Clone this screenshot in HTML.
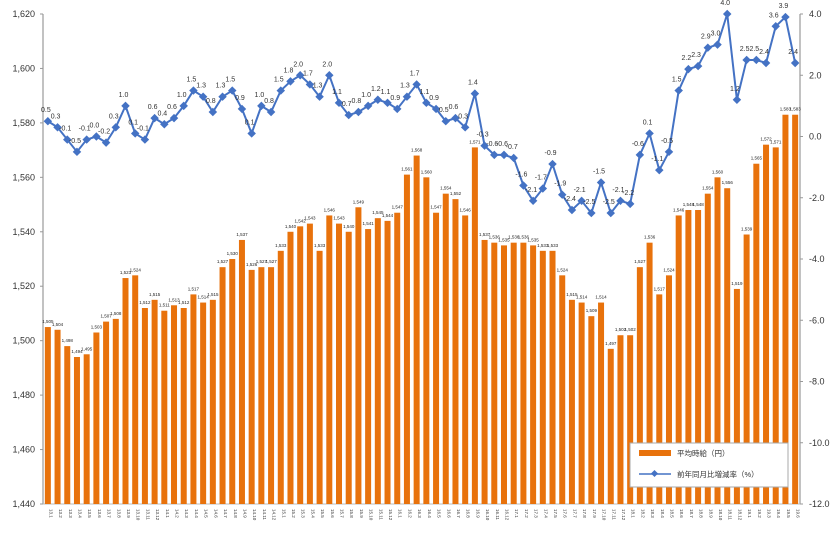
<!DOCTYPE html>
<html><head><meta charset="utf-8">
<style>
body{margin:0;background:#fff;}
svg{display:block;font-family:"Liberation Sans","Noto Sans CJK JP",sans-serif;}
</style></head><body>
<svg id="c" width="840" height="547" viewBox="0 0 840 547" xmlns="http://www.w3.org/2000/svg"></svg>
<script>
const bars=[1505,1504,1498,1494,1495,1503,1507,1508,1523,1524,1512,1515,1511,1513,1512,1517,1514,1515,1527,1530,1537,1526,1527,1527,1533,1540,1542,1543,1533,1546,1543,1540,1549,1541,1545,1544,1547,1561,1568,1560,1547,1554,1552,1546,1571,1537,1536,1535,1536,1536,1535,1533,1533,1524,1515,1514,1509,1514,1497,1502,1502,1527,1536,1517,1524,1546,1548,1548,1554,1560,1556,1519,1539,1565,1572,1571,1583,1583];
const line=[0.5,0.3,-0.1,-0.5,-0.1,0.0,-0.2,0.3,1.0,0.1,-0.1,0.6,0.4,0.6,1.0,1.5,1.3,0.8,1.3,1.5,0.9,0.1,1.0,0.8,1.5,1.8,2.0,1.7,1.3,2.0,1.1,0.7,0.8,1.0,1.2,1.1,0.9,1.3,1.7,1.1,0.9,0.5,0.6,0.3,1.4,-0.3,-0.6,-0.6,-0.7,-1.6,-2.1,-1.7,-0.9,-1.9,-2.4,-2.1,-2.5,-1.5,-2.5,-2.1,-2.2,-0.6,0.1,-1.1,-0.5,1.5,2.2,2.3,2.9,3.0,4.0,1.2,2.5,2.5,2.4,3.6,3.9,2.4];
const L=43,R=800,T=14,B=504,n=bars.length,pw=(R-L)/n;
const yL=v=>T+(1620-v)*(B-T)/180, yR=v=>T+(4-v)*(B-T)/16;
let s='';
// axes
s+=`<line x1="${L}" y1="${T}" x2="${L}" y2="${B}" stroke="#999" stroke-width="1.2"/>`;
s+=`<line x1="${R}" y1="${T}" x2="${R}" y2="${B}" stroke="#999" stroke-width="1.2"/>`;
s+=`<line x1="${L}" y1="${B}" x2="${R}" y2="${B}" stroke="#bbb" stroke-width="1"/>`;
for(let v=1440;v<=1620;v+=20){const y=yL(v);s+=`<line x1="${L-3}" y1="${y}" x2="${L}" y2="${y}" stroke="#999"/><text x="${L-8}" y="${y+3}" font-size="9" text-anchor="end" fill="#333">${v.toLocaleString('en-US')}</text>`;}
for(let v=4;v>=-12;v-=2){const y=yR(v);s+=`<line x1="${R}" y1="${y}" x2="${R+3}" y2="${y}" stroke="#999"/><text x="${R+9}" y="${y+3}" font-size="9" fill="#333">${v.toFixed(1)}</text>`;}
// bars
const cx=i=>L+pw*(i+0.5);
bars.forEach((v,i)=>{const y=yL(v);s+=`<rect x="${cx(i)-3}" y="${y}" width="6" height="${B-y}" fill="#e8720c"/>`;
s+=`<text x="${cx(i)}" y="${y-4}" font-size="4.5" text-anchor="middle" fill="#222">${v.toLocaleString('en-US')}</text>`;});
// x labels
let yr=13,m=1;
for(let i=0;i<n;i++){s+=`<text transform="translate(${cx(i)+1.5},${B+5}) rotate(90)" font-size="4.5" fill="#333">${yr}.${m}</text>`;m++;if(m>12){m=1;yr++;}}
// line
s+=`<polyline points="${line.map((v,i)=>cx(i)+','+yR(v)).join(' ')}" fill="none" stroke="#4472c4" stroke-width="2"/>`;
line.forEach((v,i)=>{const x=cx(i),y=yR(v);s+=`<rect x="${x-3}" y="${y-3}" width="6" height="6" fill="#4472c4" transform="rotate(45 ${x} ${y})"/>`;
s+=`<text x="${x-2}" y="${y-9}" font-size="7" text-anchor="middle" fill="#333">${v.toFixed(1)}</text>`;});
// legend
s+=`<rect x="630" y="443" width="158" height="44" fill="#fff" stroke="#aaa"/>`;
s+=`<rect x="639" y="450" width="32" height="6" fill="#e8720c"/><text x="677" y="456" font-size="7.5" fill="#333">平均時給（円）</text>`;
s+=`<line x1="639" y1="474" x2="671" y2="474" stroke="#4472c4" stroke-width="1.5"/><rect x="652" y="471" width="5" height="5" fill="#4472c4" transform="rotate(45 654.5 473.5)"/><text x="677" y="477" font-size="7.5" fill="#333">前年同月比増減率（%）</text>`;
document.getElementById('c').innerHTML=s;
</script>
</body></html>
